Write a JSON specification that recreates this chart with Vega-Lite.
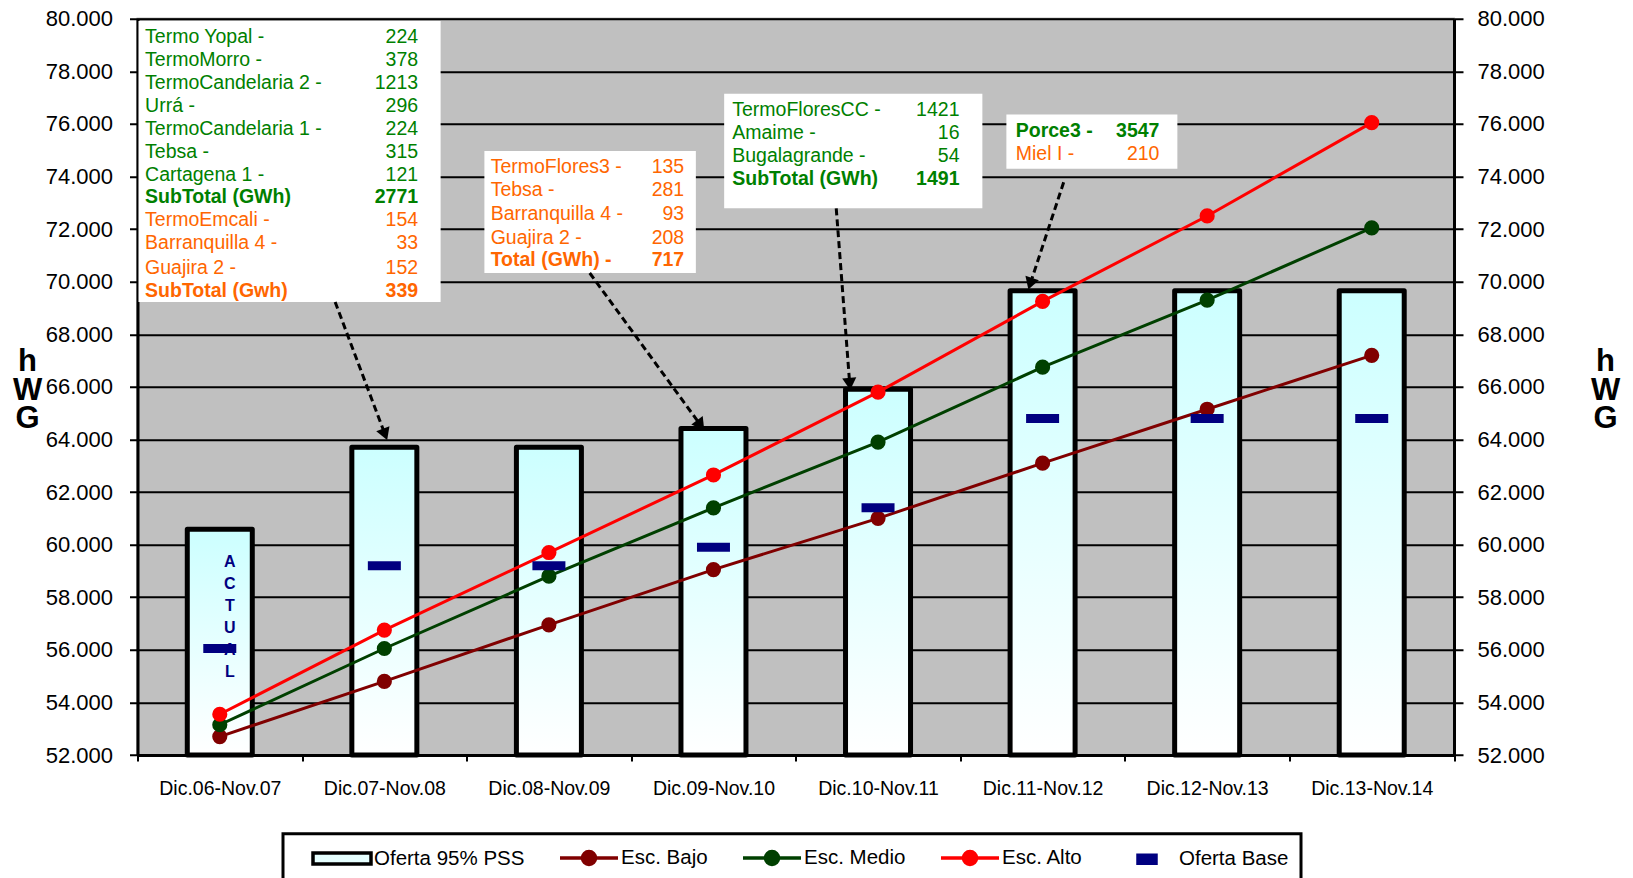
{
  "$schema": "https://vega.github.io/schema/vega-lite/v6.json",
  "width": 1316.5,
  "height": 736.25,
  "autosize": {"type": "none"},
  "padding": {"left": 137.5, "top": 18.75, "right": 179, "bottom": 123},
  "background": "#ffffff",
  "view": {"fill": "#c0c0c0", "stroke": "#808080", "strokeWidth": 2},
  "config": {
    "font": "Liberation Sans",
    "view": {"fill": "#c0c0c0", "stroke": "#808080", "strokeWidth": 2},
    "legend": {"strokeWidth": 3}
  },
  "datasets": {
    "principal": [
      {"periodo": "Dic.06-Nov.07", "serie": "Oferta 95% PSS", "gwh": 60590},
      {"periodo": "Dic.07-Nov.08", "serie": "Oferta 95% PSS", "gwh": 63700},
      {"periodo": "Dic.08-Nov.09", "serie": "Oferta 95% PSS", "gwh": 63700},
      {"periodo": "Dic.09-Nov.10", "serie": "Oferta 95% PSS", "gwh": 64420},
      {"periodo": "Dic.10-Nov.11", "serie": "Oferta 95% PSS", "gwh": 65910},
      {"periodo": "Dic.11-Nov.12", "serie": "Oferta 95% PSS", "gwh": 69660},
      {"periodo": "Dic.12-Nov.13", "serie": "Oferta 95% PSS", "gwh": 69660},
      {"periodo": "Dic.13-Nov.14", "serie": "Oferta 95% PSS", "gwh": 69660},
      {"periodo": "Dic.06-Nov.07", "serie": "Esc. Bajo", "gwh": 52700},
      {"periodo": "Dic.07-Nov.08", "serie": "Esc. Bajo", "gwh": 54800},
      {"periodo": "Dic.08-Nov.09", "serie": "Esc. Bajo", "gwh": 56950},
      {"periodo": "Dic.09-Nov.10", "serie": "Esc. Bajo", "gwh": 59050},
      {"periodo": "Dic.10-Nov.11", "serie": "Esc. Bajo", "gwh": 61000},
      {"periodo": "Dic.11-Nov.12", "serie": "Esc. Bajo", "gwh": 63100},
      {"periodo": "Dic.12-Nov.13", "serie": "Esc. Bajo", "gwh": 65150},
      {"periodo": "Dic.13-Nov.14", "serie": "Esc. Bajo", "gwh": 67200},
      {"periodo": "Dic.06-Nov.07", "serie": "Esc. Medio", "gwh": 53150},
      {"periodo": "Dic.07-Nov.08", "serie": "Esc. Medio", "gwh": 56050},
      {"periodo": "Dic.08-Nov.09", "serie": "Esc. Medio", "gwh": 58800},
      {"periodo": "Dic.09-Nov.10", "serie": "Esc. Medio", "gwh": 61400},
      {"periodo": "Dic.10-Nov.11", "serie": "Esc. Medio", "gwh": 63900},
      {"periodo": "Dic.11-Nov.12", "serie": "Esc. Medio", "gwh": 66750},
      {"periodo": "Dic.12-Nov.13", "serie": "Esc. Medio", "gwh": 69300},
      {"periodo": "Dic.13-Nov.14", "serie": "Esc. Medio", "gwh": 72050},
      {"periodo": "Dic.06-Nov.07", "serie": "Esc. Alto", "gwh": 53550},
      {"periodo": "Dic.07-Nov.08", "serie": "Esc. Alto", "gwh": 56750},
      {"periodo": "Dic.08-Nov.09", "serie": "Esc. Alto", "gwh": 59700},
      {"periodo": "Dic.09-Nov.10", "serie": "Esc. Alto", "gwh": 62650},
      {"periodo": "Dic.10-Nov.11", "serie": "Esc. Alto", "gwh": 65800},
      {"periodo": "Dic.11-Nov.12", "serie": "Esc. Alto", "gwh": 69250},
      {"periodo": "Dic.12-Nov.13", "serie": "Esc. Alto", "gwh": 72500},
      {"periodo": "Dic.13-Nov.14", "serie": "Esc. Alto", "gwh": 76050},
      {"periodo": "Dic.06-Nov.07", "serie": "Oferta Base", "gwh": 56050},
      {"periodo": "Dic.07-Nov.08", "serie": "Oferta Base", "gwh": 59200},
      {"periodo": "Dic.08-Nov.09", "serie": "Oferta Base", "gwh": 59200},
      {"periodo": "Dic.09-Nov.10", "serie": "Oferta Base", "gwh": 59900},
      {"periodo": "Dic.10-Nov.11", "serie": "Oferta Base", "gwh": 61400},
      {"periodo": "Dic.11-Nov.12", "serie": "Oferta Base", "gwh": 64800},
      {"periodo": "Dic.12-Nov.13", "serie": "Oferta Base", "gwh": 64800},
      {"periodo": "Dic.13-Nov.14", "serie": "Oferta Base", "gwh": 64800}
    ],
    "actual": [
      {"periodo": "Dic.06-Nov.07", "texto": "A\nC\nT\nU\nA\nL", "gwh": 59340}
    ],
    "leyenda": [
      {"serie": "Oferta 95% PSS"},
      {"serie": "Esc. Bajo"},
      {"serie": "Esc. Medio"},
      {"serie": "Esc. Alto"},
      {"serie": "Oferta Base"}
    ],
    "cajas": [
      {"caja": 1, "x0": 0.006, "x1": 1.842, "y0": 69228, "y1": 79914, "xl": 0.046, "xv": 1.705},
      {"caja": 2, "x0": 2.108, "x1": 3.393, "y0": 70335, "y1": 74971, "xl": 2.146, "xv": 3.322},
      {"caja": 3, "x0": 3.565, "x1": 5.134, "y0": 72791, "y1": 77149, "xl": 3.614, "xv": 4.995},
      {"caja": 4, "x0": 5.28, "x1": 6.319, "y0": 74297, "y1": 76356, "xl": 5.337, "xv": 6.21}
    ],
    "textos": [
      {"caja": 1, "nombre": "Termo Yopal -", "valor": "224", "y": 79287, "grupo": "A", "total": false},
      {"caja": 1, "nombre": "TermoMorro -", "valor": "378", "y": 78416, "grupo": "A", "total": false},
      {"caja": 1, "nombre": "TermoCandelaria 2 -", "valor": "1213", "y": 77545, "grupo": "A", "total": false},
      {"caja": 1, "nombre": "Urrá -", "valor": "296", "y": 76674, "grupo": "A", "total": false},
      {"caja": 1, "nombre": "TermoCandelaria 1 -", "valor": "224", "y": 75803, "grupo": "A", "total": false},
      {"caja": 1, "nombre": "Tebsa -", "valor": "315", "y": 74929, "grupo": "A", "total": false},
      {"caja": 1, "nombre": "Cartagena 1 -", "valor": "121", "y": 74058, "grupo": "A", "total": false},
      {"caja": 1, "nombre": "SubTotal (GWh)", "valor": "2771", "y": 73229, "grupo": "A", "total": true},
      {"caja": 1, "nombre": "TermoEmcali -", "valor": "154", "y": 72354, "grupo": "B", "total": false},
      {"caja": 1, "nombre": "Barranquilla 4 -", "valor": "33", "y": 71483, "grupo": "B", "total": false},
      {"caja": 1, "nombre": "Guajira 2 -", "valor": "152", "y": 70532, "grupo": "B", "total": false},
      {"caja": 1, "nombre": "SubTotal  (Gwh)", "valor": "339", "y": 69661, "grupo": "B", "total": true},
      {"caja": 2, "nombre": "TermoFlores3 -", "valor": "135", "y": 74377, "grupo": "B", "total": false},
      {"caja": 2, "nombre": "Tebsa -", "valor": "281", "y": 73503, "grupo": "B", "total": false},
      {"caja": 2, "nombre": "Barranquilla 4 -", "valor": "93", "y": 72556, "grupo": "B", "total": false},
      {"caja": 2, "nombre": "Guajira 2 -", "valor": "208", "y": 71643, "grupo": "B", "total": false},
      {"caja": 2, "nombre": "Total (GWh) -", "valor": "717", "y": 70810, "grupo": "B", "total": true},
      {"caja": 3, "nombre": "TermoFloresCC -", "valor": "1421", "y": 76515, "grupo": "A", "total": false},
      {"caja": 3, "nombre": "Amaime -", "valor": "16", "y": 75644, "grupo": "A", "total": false},
      {"caja": 3, "nombre": "Bugalagrande -", "valor": "54", "y": 74773, "grupo": "A", "total": false},
      {"caja": 3, "nombre": "SubTotal (GWh)", "valor": "1491", "y": 73902, "grupo": "A", "total": true},
      {"caja": 4, "nombre": "Porce3 -", "valor": "3547", "y": 75723, "grupo": "A", "total": true},
      {"caja": 4, "nombre": "Miel I -", "valor": "210", "y": 74853, "grupo": "B", "total": false}
    ],
    "flechas": [
      {"flecha": 1, "x": 1.201, "y": 69228, "x2": 1.504, "y2": 64193},
      {"flecha": 2, "x": 2.748, "y": 70331, "x2": 3.422, "y2": 64543},
      {"flecha": 3, "x": 4.246, "y": 72791, "x2": 4.328, "y2": 66110},
      {"flecha": 4, "x": 5.628, "y": 73780, "x2": 5.425, "y2": 69920}
    ]
  },
  "layer": [
    {
      "data": {"name": "principal"},
      "transform": [{"filter": "datum.serie === 'Oferta 95% PSS'"}],
      "mark": {
        "type": "bar",
        "width": {"band": 0.395},
        "fill": {"gradient": "linear", "x1": 0, "y1": 0, "x2": 0, "y2": 1, "stops": [{"offset": 0, "color": "#ccffff"}, {"offset": 1, "color": "#ffffff"}]},
        "stroke": "#000000",
        "strokeWidth": 5,
        "strokeJoin": "round"
      },
      "encoding": {
        "x": {
          "field": "periodo", "type": "nominal", "sort": null,
          "scale": {"type": "band", "paddingInner": 0, "paddingOuter": 0},
          "axis": {"title": null, "tickBand": "extent", "labelAngle": 0, "labelFontSize": 19.5, "labelFont": "Liberation Sans", "labelColor": "#000000", "labelPadding": 18, "tickSize": 6, "tickColor": "#000000", "tickWidth": 2, "domainColor": "#000000", "domainWidth": 3, "grid": false}
        },
        "y": {
          "field": "gwh", "type": "quantitative",
          "scale": {"domain": [52000, 80000], "nice": false, "zero": false},
          "axis": {
            "orient": "left",
            "values": [52000, 54000, 56000, 58000, 60000, 62000, 64000, 66000, 68000, 70000, 72000, 74000, 76000, 78000, 80000],
            "labelExpr": "replace(format(datum.value, ','), ',', '.')",
            "grid": true, "gridColor": "#000000", "gridWidth": 2, "gridOpacity": 1,
            "domainColor": "#000000", "domainWidth": 3,
            "tickColor": "#000000", "tickWidth": 2, "tickSize": 8,
            "labelPadding": 17, "labelFontSize": 22, "labelFont": "Liberation Sans", "labelColor": "#000000",
            "title": ["h", "W", "G"], "titleAngle": 0, "titleX": -110.5, "titleY": 343,
            "titleAlign": "center", "titleBaseline": "middle", "titleFontSize": 31, "titleFontWeight": "bold",
            "titleLineHeight": 28.5, "titleColor": "#000000", "titleFont": "Liberation Sans"
          }
        },
        "y2": {"datum": 52000}
      }
    },
    {
      "data": {"name": "actual"},
      "mark": {"type": "text", "lineBreak": "\n", "dx": 10, "fontSize": 16, "fontWeight": "bold", "color": "#000080", "lineHeight": 22, "baseline": "middle", "align": "center"},
      "encoding": {
        "x": {"field": "periodo", "type": "nominal", "scale": {"type": "point", "padding": 0.5, "domain": ["Dic.06-Nov.07", "Dic.07-Nov.08", "Dic.08-Nov.09", "Dic.09-Nov.10", "Dic.10-Nov.11", "Dic.11-Nov.12", "Dic.12-Nov.13", "Dic.13-Nov.14"]}, "axis": null},
        "y": {"field": "gwh", "type": "quantitative", "scale": {"domain": [52000, 80000], "nice": false, "zero": false}, "axis": null},
        "text": {"field": "texto"}
      }
    },
    {
      "data": {"name": "principal"},
      "transform": [{"filter": "datum.serie === 'Esc. Bajo'"}],
      "mark": {"type": "line", "color": "#800000", "strokeWidth": 3, "point": {"filled": true, "size": 230, "color": "#800000", "opacity": 1}},
      "encoding": {
        "x": {"field": "periodo", "type": "nominal", "sort": null, "scale": {"type": "point", "padding": 0.5}, "axis": null},
        "y": {"field": "gwh", "type": "quantitative", "scale": {"domain": [52000, 80000], "nice": false, "zero": false}, "axis": null}
      }
    },
    {
      "data": {"name": "principal"},
      "transform": [{"filter": "datum.serie === 'Esc. Medio'"}],
      "mark": {"type": "line", "color": "#004000", "strokeWidth": 3, "point": {"filled": true, "size": 230, "color": "#004000", "opacity": 1}},
      "encoding": {
        "x": {"field": "periodo", "type": "nominal", "sort": null, "scale": {"type": "point", "padding": 0.5}, "axis": null},
        "y": {"field": "gwh", "type": "quantitative", "scale": {"domain": [52000, 80000], "nice": false, "zero": false}, "axis": null}
      }
    },
    {
      "data": {"name": "principal"},
      "transform": [{"filter": "datum.serie === 'Esc. Alto'"}],
      "mark": {"type": "line", "color": "#ff0000", "strokeWidth": 3, "point": {"filled": true, "size": 230, "color": "#ff0000", "opacity": 1}},
      "encoding": {
        "x": {"field": "periodo", "type": "nominal", "sort": null, "scale": {"type": "point", "padding": 0.5}, "axis": null},
        "y": {"field": "gwh", "type": "quantitative", "scale": {"domain": [52000, 80000], "nice": false, "zero": false}, "axis": null}
      }
    },
    {
      "data": {"name": "principal"},
      "transform": [{"filter": "datum.serie === 'Oferta Base'"}],
      "mark": {"type": "tick", "color": "#000080", "thickness": 9, "size": 33, "opacity": 1},
      "encoding": {
        "x": {"field": "periodo", "type": "nominal", "sort": null, "scale": {"type": "band", "paddingInner": 0, "paddingOuter": 0}, "axis": null},
        "y": {"field": "gwh", "type": "quantitative", "scale": {"domain": [52000, 80000], "nice": false, "zero": false}, "axis": null}
      }
    },
    {
      "data": {"name": "leyenda"},
      "mark": {"type": "point", "filled": true, "opacity": 0, "strokeWidth": 3.5},
      "encoding": {
        "fill": {
          "field": "serie", "type": "nominal",
          "scale": {"domain": ["Oferta 95% PSS", "Esc. Bajo", "Esc. Medio", "Esc. Alto", "Oferta Base"], "range": ["#e6ffff", "#800000", "#004000", "#ff0000", "#000080"]},
          "legend": {"title": null, "orient": "none", "legendX": 145.5, "legendY": 815, "direction": "horizontal", "columns": 5, "columnPadding": 17, "padding": 12, "strokeColor": "#000000", "fillColor": "#ffffff", "labelFontSize": 20.5, "labelFont": "Liberation Sans", "labelColor": "#000000", "labelOffset": 55, "labelLimit": 300, "symbolSize": 400, "symbolStrokeWidth": 3.5, "symbolOpacity": 1}
        },
        "stroke": {
          "field": "serie", "type": "nominal",
          "scale": {"domain": ["Oferta 95% PSS", "Esc. Bajo", "Esc. Medio", "Esc. Alto", "Oferta Base"], "range": ["#000000", "#800000", "#004000", "#ff0000", "#000080"]},
          "legend": {"title": null, "orient": "none", "legendX": 145.5, "legendY": 815, "direction": "horizontal", "columns": 5, "columnPadding": 17, "padding": 12, "strokeColor": "#000000", "fillColor": "#ffffff", "labelFontSize": 20.5, "labelFont": "Liberation Sans", "labelColor": "#000000", "labelOffset": 55, "labelLimit": 300, "symbolSize": 400, "symbolStrokeWidth": 3.5, "symbolOpacity": 1}
        },
        "shape": {
          "field": "serie", "type": "nominal",
          "scale": {"domain": ["Oferta 95% PSS", "Esc. Bajo", "Esc. Medio", "Esc. Alto", "Oferta Base"], "range": [
            "M0.6,-0.55H6.4V0.55H0.6Z",
            "M0.6,0H6.4M4.15,0A0.65,0.65,0,1,1,2.85,0A0.65,0.65,0,1,1,4.15,0Z",
            "M0.6,0H6.4M4.15,0A0.65,0.65,0,1,1,2.85,0A0.65,0.65,0,1,1,4.15,0Z",
            "M0.6,0H6.4M4.15,0A0.65,0.65,0,1,1,2.85,0A0.65,0.65,0,1,1,4.15,0Z",
            "M2.6,-0.4H4.4V0.4H2.6Z"
          ]},
          "legend": {"title": null, "orient": "none", "legendX": 145.5, "legendY": 815, "direction": "horizontal", "columns": 5, "columnPadding": 17, "padding": 12, "strokeColor": "#000000", "fillColor": "#ffffff", "labelFontSize": 20.5, "labelFont": "Liberation Sans", "labelColor": "#000000", "labelOffset": 55, "labelLimit": 300, "symbolSize": 400, "symbolStrokeWidth": 3.5, "symbolOpacity": 1}
        }
      }
    },
    {
      "data": {"name": "cajas"},
      "mark": {"type": "rect", "fill": "#ffffff"},
      "encoding": {
        "x": {"field": "x0", "type": "quantitative", "scale": {"domain": [0, 8], "nice": false, "zero": false}, "axis": null},
        "x2": {"field": "x1"},
        "y": {
          "field": "y0", "type": "quantitative",
          "scale": {"domain": [52000, 80000], "nice": false, "zero": false},
          "axis": {
            "orient": "right",
            "values": [52000, 54000, 56000, 58000, 60000, 62000, 64000, 66000, 68000, 70000, 72000, 74000, 76000, 78000, 80000],
            "labelExpr": "replace(format(datum.value, ','), ',', '.')",
            "grid": false,
            "domainColor": "#000000", "domainWidth": 3,
            "tickColor": "#000000", "tickWidth": 2, "tickSize": 9,
            "labelPadding": 14, "labelFontSize": 22, "labelFont": "Liberation Sans", "labelColor": "#000000",
            "title": ["h", "W", "G"], "titleAngle": 0, "titleX": 151, "titleY": 343,
            "titleAlign": "center", "titleBaseline": "middle", "titleFontSize": 31, "titleFontWeight": "bold",
            "titleLineHeight": 28.5, "titleColor": "#000000", "titleFont": "Liberation Sans"
          }
        },
        "y2": {"field": "y1"}
      }
    },
    {
      "data": {"name": "flechas"},
      "mark": {"type": "rule", "color": "#000000", "strokeWidth": 3, "strokeDash": [7, 4]},
      "encoding": {
        "x": {"field": "x", "type": "quantitative", "scale": {"domain": [0, 8], "nice": false, "zero": false}, "axis": null},
        "x2": {"field": "x2"},
        "y": {"field": "y", "type": "quantitative", "scale": {"domain": [52000, 80000], "nice": false, "zero": false}, "axis": null},
        "y2": {"field": "y2"}
      }
    },
    {
      "data": {"name": "flechas"},
      "transform": [{"filter": "datum.flecha === 1"}],
      "mark": {"type": "point", "shape": "triangle-down", "filled": true, "color": "#000000", "size": 200, "angle": -20.6, "opacity": 1},
      "encoding": {
        "x": {"field": "x2", "type": "quantitative", "scale": {"domain": [0, 8], "nice": false, "zero": false}, "axis": null},
        "y": {"field": "y2", "type": "quantitative", "scale": {"domain": [52000, 80000], "nice": false, "zero": false}, "axis": null}
      }
    },
    {
      "data": {"name": "flechas"},
      "transform": [{"filter": "datum.flecha === 2"}],
      "mark": {"type": "point", "shape": "triangle-down", "filled": true, "color": "#000000", "size": 200, "angle": -36.1, "opacity": 1},
      "encoding": {
        "x": {"field": "x2", "type": "quantitative", "scale": {"domain": [0, 8], "nice": false, "zero": false}, "axis": null},
        "y": {"field": "y2", "type": "quantitative", "scale": {"domain": [52000, 80000], "nice": false, "zero": false}, "axis": null}
      }
    },
    {
      "data": {"name": "flechas"},
      "transform": [{"filter": "datum.flecha === 3"}],
      "mark": {"type": "point", "shape": "triangle-down", "filled": true, "color": "#000000", "size": 200, "angle": -4.5, "opacity": 1},
      "encoding": {
        "x": {"field": "x2", "type": "quantitative", "scale": {"domain": [0, 8], "nice": false, "zero": false}, "axis": null},
        "y": {"field": "y2", "type": "quantitative", "scale": {"domain": [52000, 80000], "nice": false, "zero": false}, "axis": null}
      }
    },
    {
      "data": {"name": "flechas"},
      "transform": [{"filter": "datum.flecha === 4"}],
      "mark": {"type": "point", "shape": "triangle-down", "filled": true, "color": "#000000", "size": 200, "angle": 18, "opacity": 1},
      "encoding": {
        "x": {"field": "x2", "type": "quantitative", "scale": {"domain": [0, 8], "nice": false, "zero": false}, "axis": null},
        "y": {"field": "y2", "type": "quantitative", "scale": {"domain": [52000, 80000], "nice": false, "zero": false}, "axis": null}
      }
    },
    {
      "data": {"name": "textos"},
      "transform": [
        {"lookup": "caja", "from": {"data": {"name": "cajas"}, "key": "caja", "fields": ["xl", "xv"]}},
        {"filter": "!datum.total"}
      ],
      "mark": {"type": "text", "align": "left", "baseline": "middle", "fontSize": 19.5, "font": "Liberation Sans"},
      "encoding": {
        "x": {"field": "xl", "type": "quantitative", "scale": {"domain": [0, 8], "nice": false, "zero": false}, "axis": null},
        "y": {"field": "y", "type": "quantitative", "scale": {"domain": [52000, 80000], "nice": false, "zero": false}, "axis": null},
        "text": {"field": "nombre"},
        "color": {"field": "grupo", "type": "nominal", "scale": {"domain": ["A", "B"], "range": ["#008000", "#ff6600"]}, "legend": null}
      }
    },
    {
      "data": {"name": "textos"},
      "transform": [
        {"lookup": "caja", "from": {"data": {"name": "cajas"}, "key": "caja", "fields": ["xl", "xv"]}},
        {"filter": "datum.total"}
      ],
      "mark": {"type": "text", "align": "left", "baseline": "middle", "fontSize": 19.5, "fontWeight": "bold", "font": "Liberation Sans"},
      "encoding": {
        "x": {"field": "xl", "type": "quantitative", "scale": {"domain": [0, 8], "nice": false, "zero": false}, "axis": null},
        "y": {"field": "y", "type": "quantitative", "scale": {"domain": [52000, 80000], "nice": false, "zero": false}, "axis": null},
        "text": {"field": "nombre"},
        "color": {"field": "grupo", "type": "nominal", "scale": {"domain": ["A", "B"], "range": ["#008000", "#ff6600"]}, "legend": null}
      }
    },
    {
      "data": {"name": "textos"},
      "transform": [
        {"lookup": "caja", "from": {"data": {"name": "cajas"}, "key": "caja", "fields": ["xl", "xv"]}},
        {"filter": "!datum.total"}
      ],
      "mark": {"type": "text", "align": "right", "baseline": "middle", "fontSize": 19.5, "font": "Liberation Sans"},
      "encoding": {
        "x": {"field": "xv", "type": "quantitative", "scale": {"domain": [0, 8], "nice": false, "zero": false}, "axis": null},
        "y": {"field": "y", "type": "quantitative", "scale": {"domain": [52000, 80000], "nice": false, "zero": false}, "axis": null},
        "text": {"field": "valor"},
        "color": {"field": "grupo", "type": "nominal", "scale": {"domain": ["A", "B"], "range": ["#008000", "#ff6600"]}, "legend": null}
      }
    },
    {
      "data": {"name": "textos"},
      "transform": [
        {"lookup": "caja", "from": {"data": {"name": "cajas"}, "key": "caja", "fields": ["xl", "xv"]}},
        {"filter": "datum.total"}
      ],
      "mark": {"type": "text", "align": "right", "baseline": "middle", "fontSize": 19.5, "fontWeight": "bold", "font": "Liberation Sans"},
      "encoding": {
        "x": {"field": "xv", "type": "quantitative", "scale": {"domain": [0, 8], "nice": false, "zero": false}, "axis": null},
        "y": {"field": "y", "type": "quantitative", "scale": {"domain": [52000, 80000], "nice": false, "zero": false}, "axis": null},
        "text": {"field": "valor"},
        "color": {"field": "grupo", "type": "nominal", "scale": {"domain": ["A", "B"], "range": ["#008000", "#ff6600"]}, "legend": null}
      }
    }
  ],
  "resolve": {"scale": {"x": "independent"}, "axis": {"y": "independent"}}
}
